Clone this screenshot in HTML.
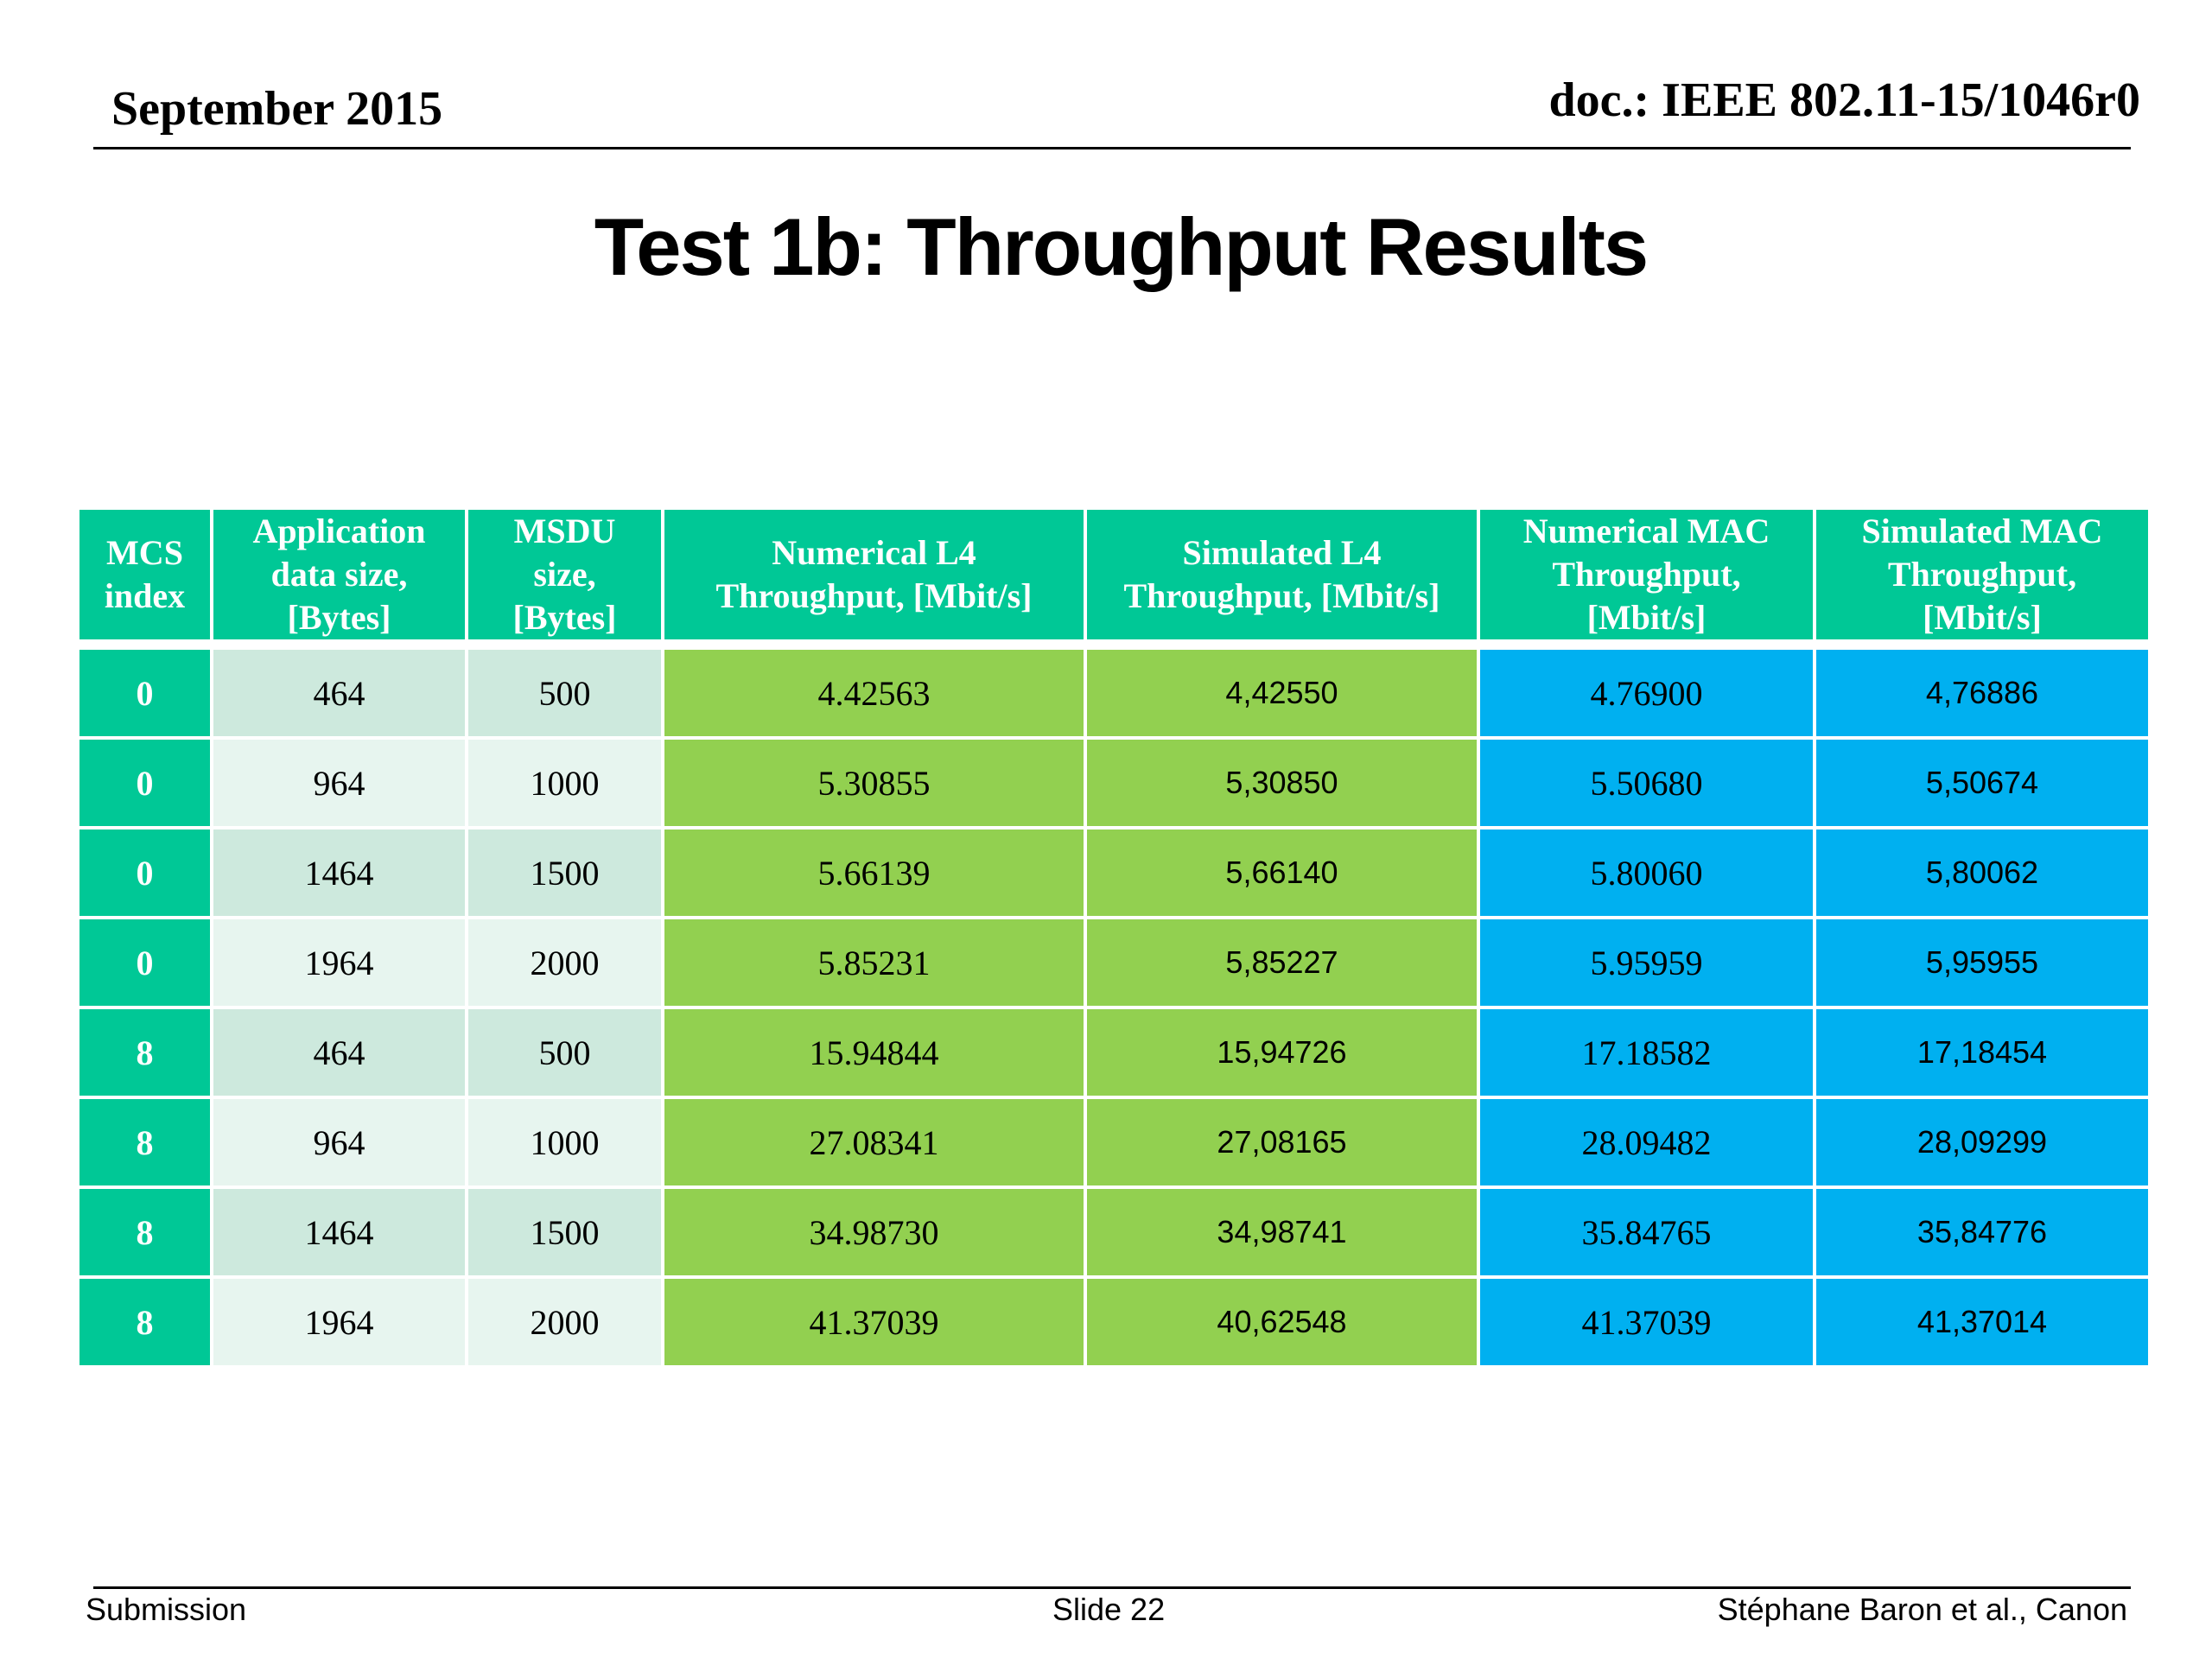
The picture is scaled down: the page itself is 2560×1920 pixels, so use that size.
<!DOCTYPE html>
<html><head><meta charset="utf-8"><style>
body{margin:0;width:2560px;height:1920px;background:#fff;position:relative;overflow:hidden;font-family:"Liberation Serif",serif}
.abs{position:absolute}
.hl{position:absolute;left:108px;width:2358px;height:3px;background:#000}
table{position:absolute;left:88px;top:586px;width:2398px;border-collapse:collapse;table-layout:fixed}
td,th{border:4px solid #fff;text-align:center;vertical-align:middle;padding:0;font-size:40px;overflow:hidden}
th{background:#00c896;color:#fff;font-weight:bold;height:140px;line-height:50px;border-bottom:12px solid #fff}
td{height:100px}
.m{background:#00c896;color:#fff;font-weight:bold}
.a1{background:#cde9dd}.a2{background:#e7f5ef}
.g{background:#92d050}.b{background:#00b0f0}
.s{font-family:"Liberation Sans",sans-serif;font-size:36px}
.f{font-family:"Liberation Sans",sans-serif;font-size:36px;top:1842px}
</style></head><body>
<div class="abs" style="left:129px;top:94px;font-size:56px;font-weight:bold">September 2015</div>
<div class="abs" style="right:83px;top:84px;font-size:56px;font-weight:bold">doc.: IEEE 802.11-15/1046r0</div>
<div class="hl" style="top:170px"></div>
<div class="abs" style="left:0;width:2594px;text-align:center;top:232px;font-family:'Liberation Sans',sans-serif;font-weight:bold;font-size:94px;letter-spacing:-2px">Test 1b: Throughput Results</div>
<table>
<colgroup><col style="width:155px"><col style="width:295px"><col style="width:227px"><col style="width:489px"><col style="width:455px"><col style="width:389px"><col style="width:388px"></colgroup>
<tr><th>MCS<br>index</th><th>Application<br>data size,<br>[Bytes]</th><th>MSDU<br>size,<br>[Bytes]</th><th>Numerical L4<br>Throughput, [Mbit/s]</th><th>Simulated L4<br>Throughput, [Mbit/s]</th><th>Numerical MAC<br>Throughput,<br>[Mbit/s]</th><th>Simulated MAC<br>Throughput,<br>[Mbit/s]</th></tr>
<tbody id="tb"></tbody>
</table>
<div class="hl" style="top:1836px"></div>
<div class="abs f" style="left:99px">Submission</div>
<div class="abs f" style="left:1218px">Slide 22</div>
<div class="abs f" style="right:98px">Stéphane Baron et al., Canon</div>
<script>
const mcs=["0","0","0","0","8","8","8","8"];
const app=["464","964","1464","1964","464","964","1464","1964"];
const msdu=["500","1000","1500","2000","500","1000","1500","2000"];
const numL4=["4.42563","5.30855","5.66139","5.85231","15.94844","27.08341","34.98730","41.37039"];
const simL4=["4,42550","5,30850","5,66140","5,85227","15,94726","27,08165","34,98741","40,62548"];
const numMac=["4.76900","5.50680","5.80060","5.95959","17.18582","28.09482","35.84765","41.37039"];
const simMac=["4,76886","5,50674","5,80062","5,95955","17,18454","28,09299","35,84776","41,37014"];
const tb=document.getElementById('tb');
for(let i=0;i<mcs.length;i++){
 const tr=document.createElement('tr');
 
 
 const alt=i%2==0?'a1':'a2';
 const cells=[[mcs[i],'m'],[app[i],alt],[msdu[i],alt],[numL4[i],'g'],[simL4[i],'g s'],[numMac[i],'b'],[simMac[i],'b s']];
 for(const c of cells){
  const td=document.createElement('td');
  td.className=c[1];
  td.textContent=c[0];
  
  
  tr.appendChild(td);
 }
 tb.appendChild(tr);
}
</script>
</body></html>
